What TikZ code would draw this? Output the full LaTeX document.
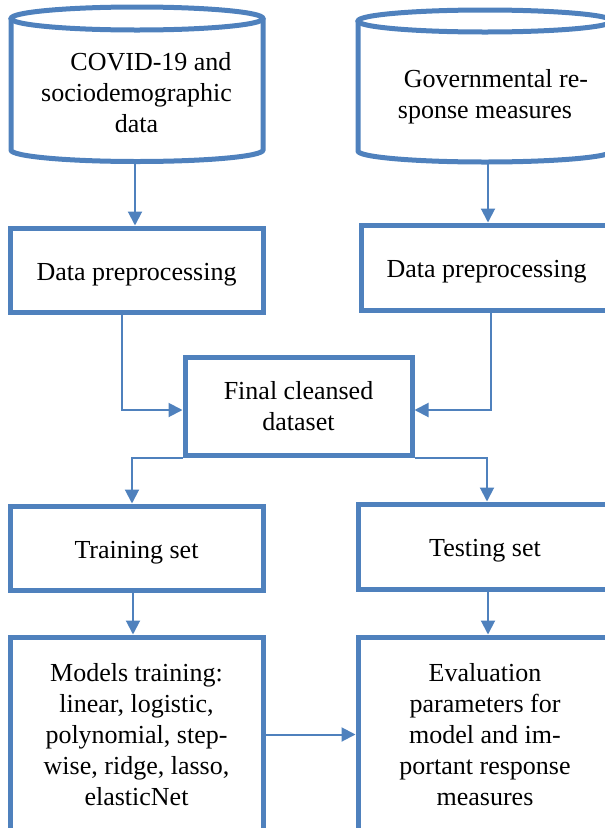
\documentclass[tikz,border=0pt]{standalone}
\usepackage{fontspec}
\setmainfont{Liberation Serif}
\usetikzlibrary{arrows.meta,calc}
\definecolor{wordblue}{RGB}{79,129,189}
\begin{document}
\begin{tikzpicture}[x=1pt,y=1pt,
  box/.style={draw=wordblue, line width=5pt, rectangle, inner sep=0pt, align=center, font=\fontsize{26}{31}\selectfont},
  one/.style={text height=24pt, text depth=4pt},
  cyl/.style={draw=wordblue, line width=5pt},
  conn/.style={draw=wordblue, line width=2pt, -{Triangle[length=14pt,width=14pt]}},
  txt/.style={align=center, inner sep=0pt, font=\fontsize{26}{31}\selectfont}]
\useasboundingbox (0,0) rectangle (605,-828);
\clip (0,0) rectangle (605,-828);
% cylinders
\draw[cyl] (11,-18.5) -- (11,-150) arc[start angle=180,end angle=360,x radius=126pt,y radius=11.5pt] -- (263,-18.5);
\draw[cyl] (137,-18.5) ellipse[x radius=126pt,y radius=11.5pt];
\draw[cyl] (358,-21) -- (358,-151) arc[start angle=180,end angle=360,x radius=127pt,y radius=11pt] -- (612,-21);
\draw[cyl] (485,-21) ellipse[x radius=127pt,y radius=11pt];
\node[txt] (cyl1) at (136.5,-92.6) {\hspace*{29pt}COVID-19 and\\sociodemographic\\data};
\node[txt] (cyl2) at (485,-96.4) {\hspace*{22pt}Governmental re-\\sponse measures};
\coordinate (c1b) at (135,-161.5);
\coordinate (c2b) at (488,-162);
% boxes
\node[box, one, minimum width=253pt, minimum height=84pt] (dp1) at (136.5,-270) {Data preprocessing};
\node[box, one, minimum width=251pt, minimum height=85pt] (dp2) at (486.5,-267.5) {Data preprocessing};
\node[box, minimum width=227pt, minimum height=98pt] (fin) at (298.5,-406) {Final cleansed\\dataset};
\node[box, one, minimum width=253pt, minimum height=84pt] (train) at (136.5,-548) {Training set};
\node[box, one, minimum width=254pt, minimum height=85pt] (test) at (485,-546.5) {Testing set};
\node[box, minimum width=253pt, minimum height=195pt] (models) at (136.5,-734.5) {Models training:\\linear, logistic,\\polynomial, step-\\wise, ridge, lasso,\\elasticNet};
\node[box, minimum width=254pt, minimum height=195pt] (eval) at (485,-734.5) {Evaluation\\parameters for\\model and im-\\portant response\\measures};
% connectors
\draw[conn] (c1b) -- (c1b |- dp1.north);
\draw[conn] (c2b) -- (c2b |- dp2.north);
\draw[conn] ([xshift=-14.5pt]dp1.south) |- ([yshift=-4pt]fin.west);
\draw[conn] ([xshift=4.5pt]dp2.south) |- ([yshift=-4pt]fin.east);
\draw[conn] (fin.south west) -| ([xshift=-4.5pt]train.north);
\draw[conn] (fin.south east) -| ([xshift=2pt]test.north);
\draw[conn] ([xshift=-3.5pt]train.south) -- ([xshift=-3.5pt]models.north);
\draw[conn] ([xshift=3pt]test.south) -- ([xshift=3pt]eval.north);
\draw[conn] (models.east) -- (eval.west);
\end{tikzpicture}
\end{document}
